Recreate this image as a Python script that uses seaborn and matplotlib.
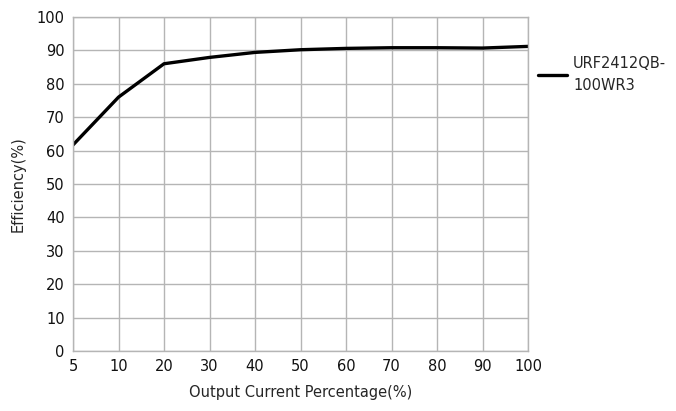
import matplotlib
matplotlib.use("Agg")
import matplotlib.pyplot as plt
import seaborn as sns
import pandas as pd

categories = ["5", "10", "20", "30", "40", "50", "60", "70", "80", "90", "100"]
efficiency = [61.7, 76.0, 86.0, 87.9, 89.4, 90.2, 90.6, 90.8, 90.8, 90.7, 91.2]
series_name = "URF2412QB-\n100WR3"

df = pd.DataFrame({"pos": range(len(categories)), "eff": efficiency, "series": series_name})

sns.set_style("white")
plt.rcParams["font.family"] = ["DejaVu Sans"]

fig = plt.figure(figsize=(6.76, 4.11), dpi=100)
ax = fig.add_axes([73/676, 1-351/411, (528-73)/676, (351-17)/411])

sns.lineplot(data=df, x="pos", y="eff", hue="series", palette=["black"], linewidth=2.4, ax=ax)

ax.set_xlim(0, len(categories)-1)
ax.set_ylim(0, 100)
ax.set_xticks(range(len(categories)))
ax.set_xticklabels(categories)
ax.set_yticks(range(0, 101, 10))
ax.grid(True, color="#b5b5b5", linewidth=1)
ax.set_axisbelow(True)
for s in ax.spines.values():
    s.set_color("#b5b5b5")
    s.set_linewidth(1)
ax.tick_params(axis="both", length=0, labelsize=10.5, colors="#111111", pad=6)
ax.set_xlabel("Output Current Percentage(%)", fontsize=10.5, labelpad=8)
ax.set_ylabel("Efficiency(%)", fontsize=10.5, labelpad=8)

leg = ax.legend(loc="upper left", bbox_to_anchor=(1.0, 0.915), frameon=False,
                fontsize=10.5, handlelength=2.0, handletextpad=0.4, borderaxespad=0.3)
for line in leg.get_lines():
    line.set_linewidth(2.4)
for t in leg.get_texts():
    t.set_linespacing(1.6)

fig.savefig("out.png", dpi=100)
